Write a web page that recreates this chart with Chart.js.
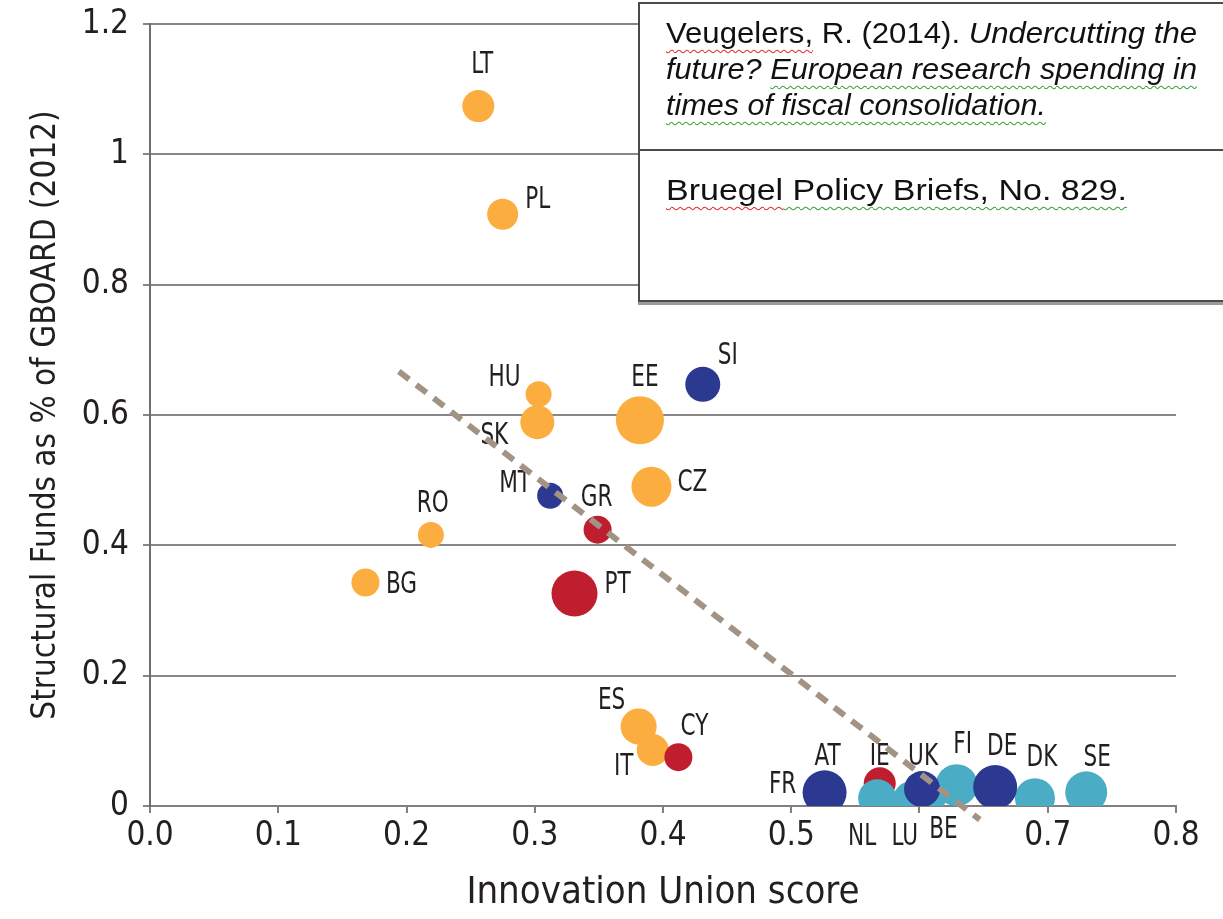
<!DOCTYPE html>
<html>
<head>
<meta charset="utf-8">
<script src="https://cdn.jsdelivr.net/npm/chart.js@4.4.1/dist/chart.umd.min.js"></script>
<style>
  html, body { margin: 0; padding: 0; background: #fff; }
  #wrap { position: relative; width: 1223px; height: 919px; overflow: hidden; }
  #note {
    position: absolute; left: 638px; top: 2px; width: 620px; height: 296px;
    background: #fff; border: 2px solid #4a4a4a; border-right: none;
    box-shadow: 0 3px 0 #9a9a9a;
    font-family: "Liberation Sans", Arial, sans-serif; font-size: 29px; color: #111;
  }
  #note .cell { box-sizing: border-box; padding-left: 26px; }
  #note .top { height: 147px; padding-top: 11px; border-bottom: 2px solid #4a4a4a; }
  #note .bottom { padding-top: 21px; }
  #note .ln { display: block; width: max-content; white-space: nowrap; line-height: 36px; transform-origin: 0 50%; }
  .red { text-decoration: underline wavy #e03030; text-decoration-thickness: 1px; text-underline-offset: 6px; }
  .green { text-decoration: underline wavy #3aa23a; text-decoration-thickness: 1px; text-underline-offset: 6px; }
</style>
</head>
<body>
<div id="wrap">
  <canvas id="chart" width="1223" height="919"></canvas>
  <div id="note">
    <div class="cell top">
      <span class="ln" data-w="531"><span class="red">Veugelers,</span> R. (2014). <i>Undercutting the</i></span>
      <span class="ln" data-w="531"><i>future? <span class="green">European research spending in</span></i></span>
      <span class="ln" data-w="380"><i class="green">times of fiscal consolidation.</i></span>
    </div>
    <div class="cell bottom">
      <span class="ln" data-w="461"><span class="red">Bruegel</span><span class="green"> Policy Briefs, No. 829.</span></span>
    </div>
  </div>
</div>
<script>
// Innovation Union score vs structural funds share, one entry per country
const countries = ['LT', 'PL', 'HU', 'SK', 'EE', 'SI', 'MT', 'GR', 'CZ', 'RO', 'BG', 'PT', 'ES',
                   'IT', 'CY', 'FR', 'AT', 'IE', 'NL', 'LU', 'BE', 'UK', 'FI', 'DE', 'DK', 'SE'];
const innovationScore = [0.256, 0.275, 0.303, 0.302, 0.382, 0.431, 0.312, 0.349, 0.391, 0.219, 0.168, 0.331, 0.381,
                         0.392, 0.412, 0.526, 0.526, 0.569, 0.567, 0.594, 0.607, 0.602, 0.629, 0.659, 0.690, 0.730];
const structuralFunds = [1.074, 0.908, 0.632, 0.589, 0.592, 0.647, 0.476, 0.424, 0.490, 0.416, 0.343, 0.326, 0.122,
                         0.086, 0.075, 0.021, 0.021, 0.035, 0.012, 0.009, 0.015, 0.026, 0.032, 0.029, 0.012, 0.021];
const bubbleSize = [16, 15.5, 13, 17, 24, 17.5, 13, 14, 20, 13, 14, 23, 18,
                    16, 14, 21, 22, 16, 19, 19, 18, 18, 21, 22, 20, 21];
const group = ['cee', 'cee', 'cee', 'cee', 'cee', 'core', 'core', 'south', 'cee', 'cee', 'cee', 'south', 'cee',
               'cee', 'south', 'core', 'core', 'south', 'north', 'north', 'north', 'core', 'north', 'core', 'north', 'north'];
const xTicks = [0.0, 0.1, 0.2, 0.3, 0.4, 0.5, 0.6, 0.7, 0.8];
// fitted trend line endpoints
const trendX = [0.194, 0.647];
const trendY = [0.667, -0.021];

const groupColors = { core: '#2b3990', north: '#4bacc6', south: '#be1e2d', cee: '#fbad3f' };
const groupOrder = ['core', 'north', 'south', 'cee'];

// label placement around each bubble (pixels)
const labelOffset = {
  LT: [4, -41], PL: [35, -14], HU: [-34, -16], SK: [-43, 14], EE: [5, -42], SI: [25, -28],
  MT: [-35, -12], GR: [-1, -31], CZ: [41, -3], RO: [2, -31], BG: [36, 3], PT: [43, -8],
  ES: [-27, -25], IT: [-29, 17], CY: [16, -30], AT: [3, -35], FR: [-42, -7], IE: [0, -26],
  UK: [1, -32], NL: [-15, 39], LU: [-7, 37], BE: [15, 34], FI: [6, -40], DE: [7, -40],
  DK: [7, -40], SE: [11, -34]
};

const axisFont = '"DejaVu Sans Condensed", "DejaVu Sans", sans-serif';
const textColor = '#231f20';

const bubbleSets = groupOrder.map((g, i) => ({
  type: 'bubble',
  order: i + 1,
  backgroundColor: groupColors[g],
  borderWidth: 0,
  data: countries
    .map((c, k) => ({ x: innovationScore[k], y: structuralFunds[k], r: bubbleSize[k], c }))
    .filter((p, k) => group[k] === g)
}));

const trendSet = {
  type: 'line',
  order: 0,
  data: trendX.map((x, i) => ({ x, y: trendY[i] })),
  borderColor: '#a39384',
  borderWidth: 6,
  borderDash: [13, 9],
  pointRadius: 0,
  clip: false
};

const countryLabels = {
  id: 'countryLabels',
  beforeDatasetDraw(chart, args) {
    if (args.meta.type !== 'line') return;
    const ctx = chart.ctx;
    ctx.save();
    ctx.fillStyle = textColor;
    ctx.font = '30px ' + axisFont;
    ctx.textAlign = 'center';
    ctx.textBaseline = 'middle';
    chart.data.datasets.forEach((ds, di) => {
      if (ds.type !== 'bubble') return;
      chart.getDatasetMeta(di).data.forEach((el, i) => {
        const name = ds.data[i].c;
        const off = labelOffset[name] || [0, -30];
        ctx.save();
        ctx.translate(el.x + off[0], el.y + off[1]);
        ctx.scale(0.8, 1);
        ctx.fillText(name, 0, 0);
        ctx.restore();
      });
    });
    ctx.restore();
  }
};

new Chart(document.getElementById('chart'), {
  type: 'bubble',
  data: { datasets: [trendSet, ...bubbleSets] },
  options: {
    responsive: false,
    animation: false,
    layout: { padding: { top: 22, right: 47 } },
    plugins: { legend: { display: false }, tooltip: { enabled: false } },
    scales: {
      x: {
        type: 'linear', min: 0, max: 0.8,
        afterFit: s => { s.height = 113; },
        afterBuildTicks: s => { s.ticks = xTicks.map(v => ({ value: v })); },
        ticks: {
          callback: v => v.toFixed(1),
          // the 0.6 label sits under the NL / LU / BE country names
          color: c => (c.tick && Math.abs(c.tick.value - 0.6) < 1e-6) ? 'rgba(0,0,0,0)' : textColor,
          font: { family: axisFont, size: 33 }, padding: 4
        },
        grid: { drawOnChartArea: false, drawTicks: true, tickLength: 7, color: '#808080', lineWidth: 2 },
        border: { color: '#808080', width: 2 },
        title: { display: true, text: 'Innovation Union score', color: textColor,
                 font: { family: axisFont, size: 38 }, padding: { top: 0, bottom: 3 } }
      },
      y: {
        type: 'linear', min: 0, max: 1.2,
        afterFit: s => { s.width = 150; s.paddingTop = 0; s.paddingBottom = 0; },
        ticks: { stepSize: 0.2, callback: v => String(Math.round(v * 10) / 10), color: textColor,
                 font: { family: axisFont, size: 33 }, padding: 14 },
        grid: { color: '#878787', lineWidth: 2, tickLength: 7 },
        border: { color: '#6e6e6e', width: 2 },
        title: { display: true, text: 'Structural Funds as % of GBOARD (2012)', color: textColor,
                 font: { family: axisFont, size: 33 }, padding: { top: 27, bottom: 0 } }
      }
    }
  },
  plugins: [countryLabels]
});

// stretch the citation lines to the widths they take in the picture
document.querySelectorAll('#note .ln').forEach(el => {
  const w = el.getBoundingClientRect().width;
  el.style.transform = 'scaleX(' + (+el.dataset.w / w) + ')';
});
</script>
</body>
</html>
